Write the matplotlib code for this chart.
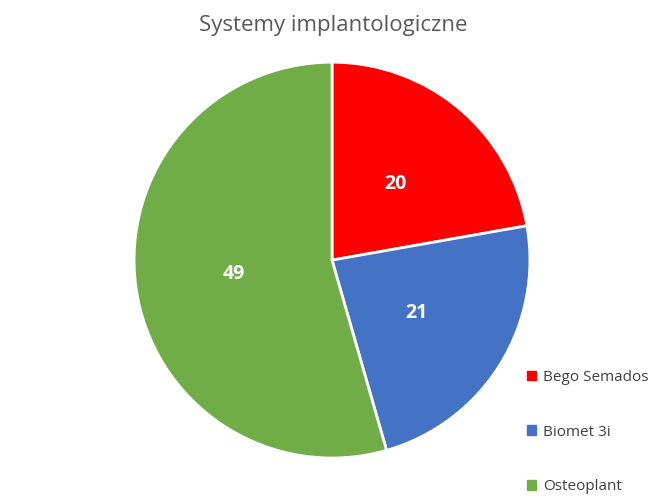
import matplotlib
matplotlib.use("Agg")
import matplotlib.pyplot as plt
from matplotlib.patches import Patch

plt.rcParams['font.family'] = ['Open Sans', 'DejaVu Sans']

categories = ["Bego Semados", "Biomet 3i", "Osteoplant"]
values = [20, 21, 49]
colors = ["#FF0000", "#4472C4", "#70AD47"]

fig = plt.figure(figsize=(6.66, 5.03), dpi=100)
ax = fig.add_axes([0.2012, 0.0894, 0.5946, 0.787])
wedges, texts = ax.pie(values, colors=colors, startangle=90, counterclock=False,
                       wedgeprops=dict(edgecolor="white", linewidth=2))
for w, v in zip(wedges, values):
    import numpy as np
    ang = np.deg2rad((w.theta1 + w.theta2) / 2)
    ax.text(0.5 * np.cos(ang), 0.5 * np.sin(ang), str(v), ha="center", va="center",
            color="white", fontsize=14, fontweight="bold")
ax.set_xlim(-1, 1); ax.set_ylim(-1, 1)
ax.set_aspect("equal")

fig.text(0.5, 0.95, "Systemy implantologiczne", ha="center", va="center",
         fontsize=16, color="#595959")

handles = [Patch(color=c) for c in colors]
fig.legend(handles, categories, loc="lower left", bbox_to_anchor=(0.77, -0.01),
           frameon=False, fontsize=11, labelspacing=2.6, handlelength=0.6,
           handleheight=0.6, handletextpad=0.5, labelcolor="#404040")
fig.savefig("out.png", dpi=100)
